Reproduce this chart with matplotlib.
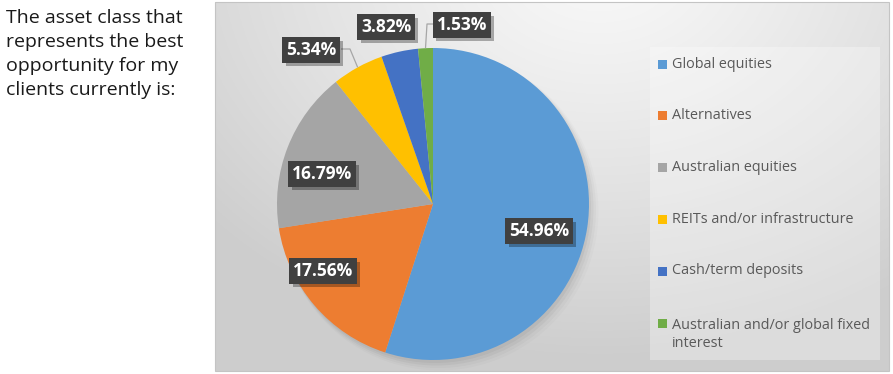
import numpy as np
import matplotlib
matplotlib.use("Agg")
import matplotlib.pyplot as plt
from matplotlib.patches import Rectangle, Circle
import matplotlib.patheffects as pe

# ---------------- data ----------------
categories = ["Global equities", "Alternatives", "Australian equities",
              "REITs and/or infrastructure", "Cash/term deposits",
              "Australian and/or global fixed interest"]
legend_labels = ["Global equities", "Alternatives", "Australian equities",
                 "REITs and/or infrastructure", "Cash/term deposits",
                 "Australian and/or global fixed\ninterest"]
values = [54.96, 17.56, 16.79, 5.34, 3.82, 1.53]
pct_labels = ["54.96%", "17.56%", "16.79%", "5.34%", "3.82%", "1.53%"]
colors = ["#5B9BD5", "#ED7D31", "#A5A5A5", "#FFC000", "#4472C4", "#70AD47"]
question = "The asset class that\nrepresents the best\nopportunity for my\nclients currently is:"

# ---------------- layout (pixels, y from top) ----------------
W, H = 893, 374
label_xy = [(539, 231), (323, 271), (322, 174), (311, 50), (386, 27), (462, 25)]
leader_elbow = {3: (350, 49), 5: (427, 24)}
leader_start = {3: (341, 49), 5: (433, 24)}
legend_y = [64, 115, 167, 219, 271, 323]

def Y(y):
    return H - y

fig = plt.figure(figsize=(W / 100, H / 100), dpi=100)
fig.patch.set_facecolor("white")
ax = fig.add_axes([0, 0, 1, 1])

# chart area background gradient
x0, x1, yt, yb = 215, 889, 2, 371
gx = np.linspace(x0, x1, 400)
gy = np.linspace(yt, yb, 250)
GX, GY = np.meshgrid(gx, gy)
d = np.sqrt(((GX - 600) / 1.0) ** 2 + ((GY + 40) * 1.3) ** 2)
v = 0.975 - 0.17 * np.clip(d / 520, 0, 1) ** 1.2
img = np.dstack([v, v, v])
ax.imshow(img, extent=(x0, x1, Y(yb), Y(yt)), origin="upper", aspect="auto", zorder=0)
ax.add_patch(Rectangle((x0, Y(yb)), x1 - x0, yb - yt, fill=False,
                       edgecolor="#c4c4c4", linewidth=0.8, zorder=1))

# legend panel
ax.add_patch(Rectangle((650, Y(360)), 230, 313, facecolor="white", alpha=0.3,
                       edgecolor="none", zorder=1))

# pie shadow (soft, towards bottom-right)
cx, cy, R = 433, Y(204), 156
for i, a in enumerate([0.045, 0.035, 0.025, 0.015]):
    ax.add_patch(Circle((cx + 2 + 1.5 * i, cy - 3 - 1.5 * i), R + i, facecolor="black",
                        alpha=a, edgecolor="none", zorder=1.5))

wedges, _ = ax.pie(values, colors=colors, startangle=90, counterclock=False,
                   center=(cx, cy), radius=R, wedgeprops=dict(linewidth=0),
                   frame=True)
for w in wedges:
    w.set_zorder(2)

# labels
lab_font = dict(family="Open Sans", weight="bold", size=12.5, color="white")
for i, (w, lab) in enumerate(zip(wedges, pct_labels)):
    lx, ly = label_xy[i]
    if i in leader_elbow:
        th = np.deg2rad((w.theta1 + w.theta2) / 2)
        ex, ey = cx + R * np.cos(th), cy + R * np.sin(th)
        sx, sy = leader_start[i]
        bx, by = leader_elbow[i]
        ax.plot([sx, bx, ex], [Y(sy), Y(by), ey], color="#a6a6a6", lw=0.9,
                zorder=3, solid_capstyle="butt")
    t = ax.text(lx, Y(ly), lab, ha="center", va="center", zorder=4,
                bbox=dict(boxstyle="square,pad=0.22", facecolor="#404040",
                          edgecolor="none"), **lab_font)
    t.get_bbox_patch().set_path_effects(
        [pe.SimplePatchShadow(offset=(2.5, -2.5), shadow_rgbFace="black", alpha=0.3),
         pe.Normal()])

# legend
for i, (lab, c) in enumerate(zip(legend_labels, colors)):
    yy = legend_y[i]
    ax.add_patch(Rectangle((658, Y(yy) - 4.5), 9, 9, facecolor=c, edgecolor="none",
                           zorder=3))
    if "\n" in lab:
        ax.text(672, Y(yy) + 5, lab, ha="left", va="top",
                family="Open Sans", size=10.4, color="#595959", zorder=3,
                linespacing=1.3)
    else:
        ax.text(672, Y(yy), lab, ha="left", va="center",
                family="Open Sans", size=10.4, color="#595959", zorder=3)

# question text
ax.text(6, Y(9), question, ha="left", va="top", family="Open Sans", size=14,
        color="#1a1a1a", linespacing=1.42)

ax.set_xlim(0, W)
ax.set_ylim(0, H)
ax.set_axis_off()

fig.savefig("out.png", dpi=100, facecolor="white")
